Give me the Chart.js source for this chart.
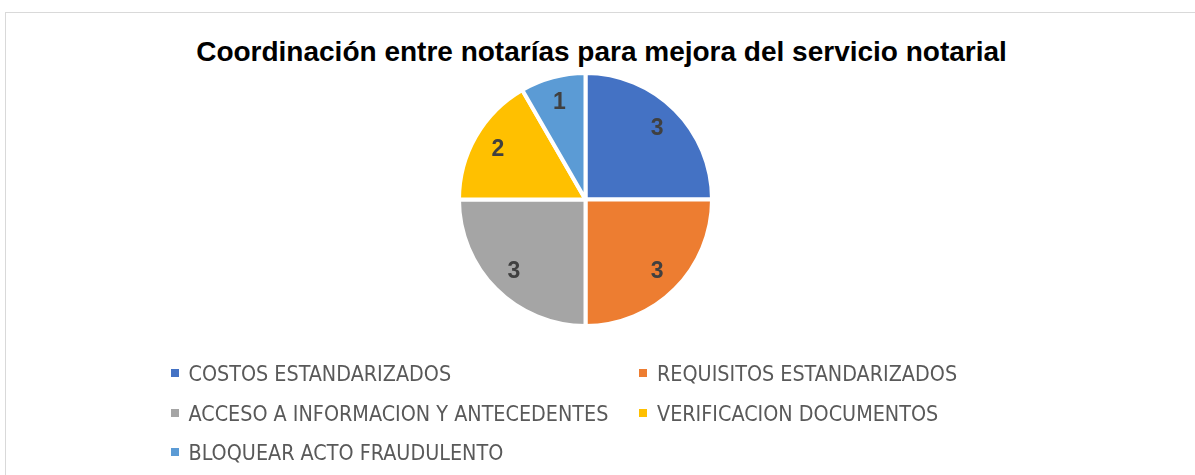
<!DOCTYPE html>
<html>
<head>
<meta charset="utf-8">
<script src="https://cdn.jsdelivr.net/npm/chart.js@4"></script>
<style>
  html, body { margin: 0; padding: 0; background: #fff; width: 1195px; height: 475px; overflow: hidden; }
  #frame { position: absolute; left: 5px; top: 12px; width: 1200px; height: 500px; border: 1px solid #d9d9d9; box-sizing: border-box; }
  #title { position: absolute; left: 0; width: 1203px; top: 38px; text-align: center; font: bold 28px "Liberation Sans", Arial, sans-serif; line-height: 28px; color: #000; white-space: nowrap; }
  #wrap { position: absolute; left: 0; top: 0; width: 1195px; height: 475px; }
</style>
</head>
<body>
<div id="frame"></div>
<div id="title">Coordinación entre notarías para mejora del servicio notarial</div>
<div id="wrap"><canvas id="c" width="1195" height="475"></canvas></div>
<script>
const categories = [
  "COSTOS ESTANDARIZADOS",
  "REQUISITOS ESTANDARIZADOS",
  "ACCESO A INFORMACION Y ANTECEDENTES",
  "VERIFICACION DOCUMENTOS",
  "BLOQUEAR ACTO FRAUDULENTO"
];
const values = [3, 3, 3, 2, 1];
const colors = ["#4472C4", "#ED7D31", "#A5A5A5", "#FFC000", "#5B9BD5"];

const labelPlugin = {
  id: 'sliceLabels',
  afterDatasetsDraw(chart) {
    const ctx = chart.ctx;
    const meta = chart.getDatasetMeta(0);
    ctx.save();
    ctx.font = 'bold 23px "Liberation Sans", Arial, sans-serif';
    ctx.fillStyle = '#404040';
    ctx.textAlign = 'center';
    ctx.textBaseline = 'middle';
    meta.data.forEach((arc, i) => {
      const p = arc.getProps(['x', 'y', 'startAngle', 'endAngle', 'outerRadius'], true);
      const mid = (p.startAngle + p.endAngle) / 2;
      const r = p.outerRadius * 0.8;
      ctx.fillText(String(chart.data.datasets[0].data[i]), p.x + Math.cos(mid) * r, p.y + Math.sin(mid) * r + 1);
    });
    ctx.restore();
  }
};

const legendPlugin = {
  id: 'gridLegend',
  afterDraw(chart) {
    const ctx = chart.ctx;
    const fam = '"Liberation Sans Narrow", "DejaVu Sans Condensed", "Liberation Sans", sans-serif';
    ctx.save();
    ctx.font = '22px ' + fam;
    const w = ctx.measureText("COSTOS ESTANDARIZADOS").width +
              ctx.measureText("REQUISITOS ESTANDARIZADOS").width +
              ctx.measureText("ACCESO A INFORMACION Y ANTECEDENTES").width;
    const size = 22 * 983 / w;
    ctx.font = size.toFixed(2) + 'px ' + fam;
    const capH = ctx.measureText("H").actualBoundingBoxAscent;
    const markerX = [171, 639];
    const textX = [188.5, 657];
    const rowY = [373, 413, 452];
    chart.data.labels.forEach((lab, i) => {
      const col = i % 2, row = Math.floor(i / 2);
      const cy = rowY[row];
      ctx.fillStyle = colors[i];
      ctx.fillRect(markerX[col], cy - 4, 8, 8);
      ctx.fillStyle = '#595959';
      ctx.textAlign = 'left';
      ctx.textBaseline = 'alphabetic';
      ctx.fillText(lab, textX[col], cy + capH / 2);
    });
    ctx.restore();
  }
};

new Chart(document.getElementById('c'), {
  type: 'pie',
  data: {
    labels: categories,
    datasets: [{
      data: values,
      backgroundColor: colors,
      borderColor: '#ffffff',
      borderWidth: 4,
      radius: 126.5
    }]
  },
  options: {
    responsive: false,
    animation: false,
    events: [],
    layout: { padding: { left: 0, right: 24, top: 0, bottom: 76 } },
    plugins: {
      legend: { display: false },
      title: { display: false },
      tooltip: { enabled: false }
    }
  },
  plugins: [labelPlugin, legendPlugin]
});
</script>
</body>
</html>
